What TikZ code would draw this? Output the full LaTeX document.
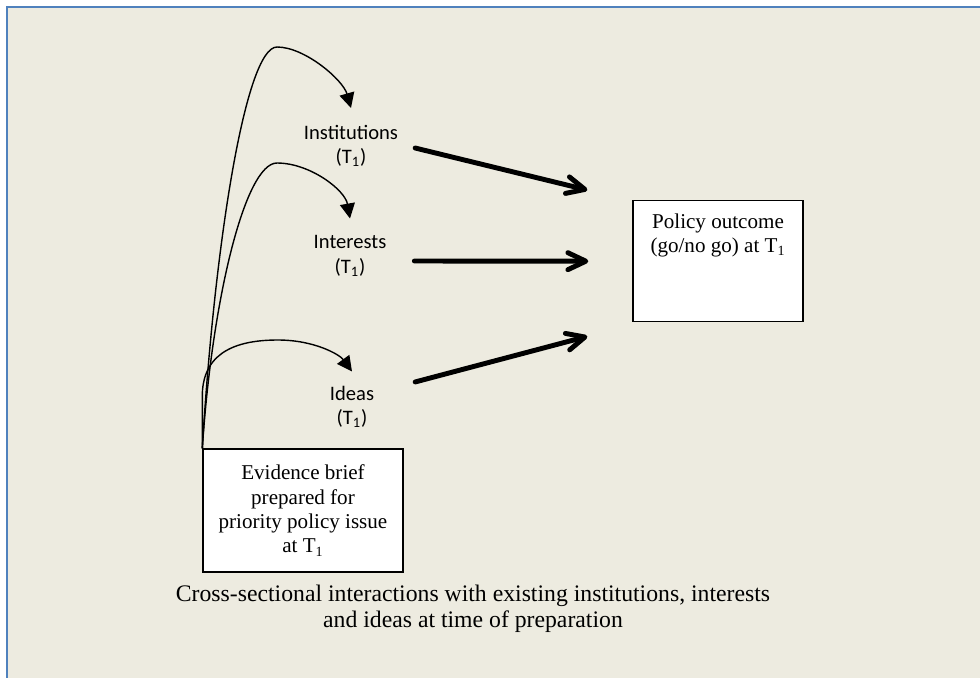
\documentclass[tikz,border=0pt]{standalone}
\usepackage{fontspec}
\setmainfont{Liberation Serif}
\newfontfamily\labelfont{Carlito}
\usetikzlibrary{arrows.meta}
\definecolor{panelbg}{RGB}{237,235,224}
\definecolor{panelline}{RGB}{79,129,189}

\begin{document}
\begin{tikzpicture}
    [x=0.02cm, y=-0.02cm,
     box/.style={draw, fill=white, line width=0.8pt, align=center, font=\fontsize{12}{13.9}\selectfont},
     factor/.style={align=center, inner sep=1pt, font=\labelfont\fontsize{11.7}{13.9}\selectfont},
     feed/.style={line width=0.8pt, -{Triangle[length=3mm,width=3mm]}},
     push/.style={line width=2.8pt, line cap=round, -{Straight Barb[round,length=3.6mm,width=3.4mm]}}]
    \useasboundingbox (0,0) rectangle (980,677);
    \fill[white] (0,0) rectangle (980,677);
    \draw[panelline, line width=1.2pt, fill=panelbg] (7,7) rectangle (1000,700);

    \node[box, minimum width=4cm, minimum height=2.46cm] (brief) at (303,510.5) {Evidence brief\\prepared for\\priority policy issue\\at T\textsubscript{1}};
    \node[box, anchor=north, inner xsep=0pt, inner ysep=0.26cm, minimum width=3.4cm] (policy) at (718,200) {\parbox[c][1.9cm][t]{3.2cm}{\centering Policy outcome\\(go/no go) at T\textsubscript{1}}};
    \node[factor] (inst) at (351,146) {Institutions\\(T\textsubscript{1})};
    \node[factor] (intr) at (350,256) {Interests\\(T\textsubscript{1})};
    \node[factor] (idea) at (352,407) {Ideas\\(T\textsubscript{1})};
    \node[align=center, font=\fontsize{13.5}{14.7}\selectfont] (note) at (473,609) {Cross-sectional interactions with existing institutions, interests\\and ideas at time of preparation};

    \draw[feed] (brief.north west) .. controls (214,250) and (245,47) .. (277,47) .. controls (305,47) and (343,80) .. ([yshift=0.3cm]inst.north);
    \draw[feed] (brief.north west) .. controls (212,300) and (245,163) .. (277,163) .. controls (310,163) and (345,190) .. ([yshift=0.3cm]intr.north);
    \draw[feed] (brief.north west) -- ++(0,-55) .. controls (204,350) and (240,340) .. (278,340) .. controls (315,340) and (340,355) .. ([yshift=0.25cm]idea.north);

    \draw[push] ([shift={(15,2)}]inst.east) -- ([shift={(-45,-10)}]policy.north west);
    \draw[push] ([shift={(26,5)}]intr.east) -- ([shift={(-44,0)}]policy.west);
    \draw[push] ([shift={(39,-2)}]idea.north east) -- ([shift={(-45,14)}]policy.south west);
\end{tikzpicture}
\end{document}
